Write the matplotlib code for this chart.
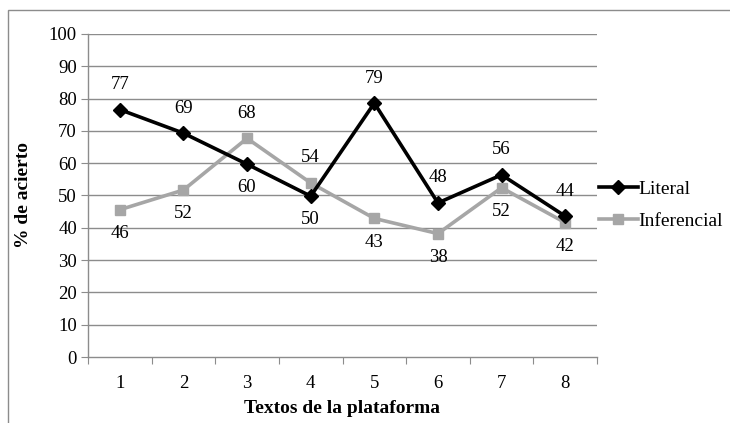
import matplotlib
matplotlib.use("Agg")
import matplotlib.pyplot as plt
from matplotlib.lines import Line2D
from matplotlib.patches import Rectangle

categories = ["1", "2", "3", "4", "5", "6", "7", "8"]
literal = [76.6, 69.3, 59.7, 49.8, 78.6, 47.7, 56.4, 43.6]
inferencial = [45.6, 51.7, 67.7, 53.9, 42.9, 38.2, 52.4, 41.6]
literal_pos = ["above", "above", "below", "below", "above", "above", "above", "above"]
inferencial_pos = ["below", "below", "above", "above", "below", "below", "below", "below"]
yticks = [0, 10, 20, 30, 40, 50, 60, 70, 80, 90, 100]

plt.rcParams['font.family'] = ['Liberation Serif', 'DejaVu Serif']

W, H = 730, 423
fig = plt.figure(figsize=(W / 100, H / 100), dpi=100)
ax = fig.add_axes([88 / W, 1 - 357 / H, (597 - 88) / W, (357 - 34) / H])

grid_c = "#8c8c8c"
FS = 13.5
x = list(range(1, len(categories) + 1))

for y in yticks[1:]:
    ax.axhline(y, color=grid_c, lw=1.0, zorder=1)

lit_c = "black"
inf_c = "#a6a6a6"
ax.plot(x, inferencial, color=inf_c, lw=2.6, marker="s", ms=7.5, zorder=3, label="Inferencial")
ax.plot(x, literal, color=lit_c, lw=2.6, marker="D", ms=7.5, zorder=4, label="Literal")

def put_labels(vals, poss):
    for xi, v, p in zip(x, vals, poss):
        off = 18 if p == "above" else -17
        ax.annotate(f"{round(v):d}", (xi, v), xytext=(0, off), textcoords="offset points",
                    ha="center", va="center", fontsize=FS, zorder=5)

put_labels(literal, literal_pos)
put_labels(inferencial, inferencial_pos)

ax.set_xlim(0.5, len(categories) + 0.5)
ax.set_ylim(0, 100)
ax.set_yticks(yticks)
ax.set_xticks([i + 0.5 for i in range(0, len(categories) + 1)])
ax.set_xticklabels([])
ax.set_xticks(x, minor=True)
ax.set_xticklabels(categories, minor=True)
ax.tick_params(axis="x", which="major", length=5, color=grid_c, direction="out")
ax.tick_params(axis="x", which="minor", length=0, pad=13, labelsize=FS)
ax.tick_params(axis="y", length=5, color=grid_c, direction="out", labelsize=FS, pad=3)

for s in ["top", "right"]:
    ax.spines[s].set_visible(False)
for s in ["left", "bottom"]:
    ax.spines[s].set_color(grid_c)
    ax.spines[s].set_linewidth(1.0)

fig.text(24 / W, 1 - 195 / H, "% de acierto", rotation=90, ha="center", va="center",
         fontsize=14, fontweight="bold")
fig.text(342 / W, 1 - 408 / H, "Textos de la plataforma", ha="center", va="center",
         fontsize=14, fontweight="bold")

handles = [Line2D([], [], color=lit_c, lw=2.6, marker="D", ms=7.5),
           Line2D([], [], color=inf_c, lw=2.6, marker="s", ms=7.5)]
fig.legend(handles, ["Literal", "Inferencial"], loc="center left",
           bbox_to_anchor=(589 / W, 1 - 205 / H), frameon=False, fontsize=14,
           handlelength=2.0, handletextpad=0.05, labelspacing=0.75, borderpad=0)

fig.patches.append(Rectangle((8 / W, -0.1), 1.2, 1.1 - 10 / H, transform=fig.transFigure,
                             fill=False, edgecolor=grid_c, lw=1.0))

fig.savefig("out.png", dpi=100)
